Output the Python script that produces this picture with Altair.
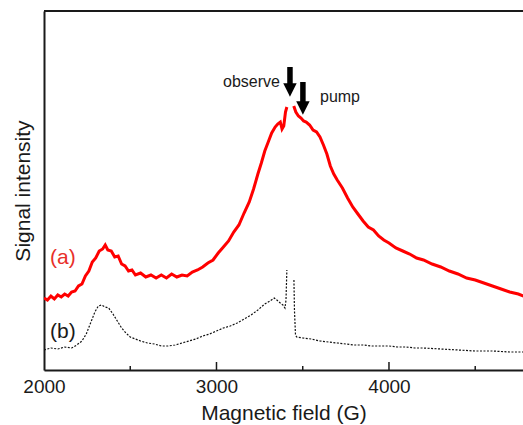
import altair as alt
import pandas as pd

# ---- data (field in G, signal in arbitrary units) ----
a_left_field = [2000, 2020, 2040, 2060, 2080, 2100, 2120, 2140, 2160, 2180, 2200, 2220, 2240, 2260,
                2280, 2300, 2320, 2340, 2355, 2370, 2390, 2410, 2430, 2450, 2470, 2490, 2510, 2530,
                2560, 2590, 2620, 2650, 2680, 2710, 2740, 2770, 2800, 2830, 2860, 2890, 2920, 2950,
                2980, 3010, 3040, 3070, 3100, 3130, 3160, 3190, 3215, 3240, 3260, 3280, 3300, 3320,
                3340, 3355, 3370, 3380, 3390, 3400, 3408]
a_left_signal = [72, 70, 74, 71, 75, 73, 76, 74, 78, 79, 84, 86, 94, 99,
                 108, 112, 119, 121, 125, 120, 119, 113, 114, 106, 104, 99, 100, 95,
                 97, 93, 95, 92, 95, 92, 96, 93, 95, 94, 98, 100, 103, 107,
                 110, 117, 123, 129, 138, 145, 157, 168, 181, 196, 207, 219, 228, 237,
                 243, 246, 248, 241, 244, 258, 263]
a_right_field = [3448, 3460, 3475, 3490, 3505, 3520, 3540, 3560, 3580, 3600, 3620, 3640, 3660, 3680,
                 3700, 3730, 3760, 3790, 3820, 3850, 3880, 3910, 3940, 3970, 4000, 4040, 4080, 4120,
                 4160, 4200, 4250, 4300, 4350, 4400, 4450, 4500, 4550, 4600, 4650, 4700, 4750, 4780]
a_right_signal = [264, 258, 254, 252, 249, 248, 245, 240, 238, 233, 225, 216, 204, 196,
                  190, 182, 172, 163, 156, 149, 143, 140, 134, 130, 127, 122, 119, 116,
                  112, 110, 106, 103, 99, 96, 92, 90, 87, 84, 81, 78, 76, 74]

b_left_field = [2000, 2040, 2080, 2120, 2160, 2190, 2220, 2245, 2270, 2295, 2315, 2335, 2355, 2375,
                2400, 2425, 2450, 2475, 2500, 2530, 2560, 2600, 2640, 2680, 2720, 2760, 2800, 2840,
                2880, 2920, 2960, 3000, 3040, 3080, 3120, 3160, 3200, 3240, 3280, 3310, 3335, 3350,
                3370, 3385, 3397, 3403, 3408]
b_left_signal = [20, 22, 21, 23, 22, 25, 29, 36, 47, 58, 64, 65, 63, 62,
                 56, 49, 42, 37, 33, 31, 29, 27, 26, 24, 24, 25, 27, 29,
                 31, 34, 36, 39, 42, 44, 47, 51, 55, 60, 66, 69, 72, 70,
                 67, 65, 62, 70, 100]
b_right_field = [3449, 3452, 3458, 3465, 3500, 3550, 3600, 3650, 3700, 3750, 3800, 3850, 3900, 3950,
                 4000, 4050, 4100, 4150, 4200, 4300, 4400, 4500, 4600, 4700, 4780]
b_right_signal = [90, 60, 35, 33, 32, 31, 29, 28, 27, 26, 25, 25, 24, 24,
                  24, 23, 23, 22, 22, 21, 20, 19, 19, 18, 18]

major_ticks = [3000, 4000]
minor_ticks = [2500, 3500, 4500]
tick_labels = [2000, 3000, 4000]

arrow_names = ["observe", "pump"]
arrow_field = [3426, 3501]
arrow_top = [303, 288]
arrow_head = [280, 262]

FONT = "Liberation Sans"
X_DOM = [2000, 4777]
Y_DOM = [0, 359]


def build(fields, signals, part):
    return pd.DataFrame({"field": fields, "signal": signals, "part": part})


df_a = pd.concat([build(a_left_field, a_left_signal, "L"), build(a_right_field, a_right_signal, "R")])
df_b = pd.concat([build(b_left_field, b_left_signal, "L"), build(b_right_field, b_right_signal, "R")])
df_arrows = pd.DataFrame({"name": arrow_names, "field": arrow_field, "top": arrow_top, "head": arrow_head})

xscale = alt.Scale(domain=X_DOM, nice=False, zero=False)
yscale = alt.Scale(domain=Y_DOM, nice=False, zero=False)

x_axis = alt.Axis(values=tick_labels, format="d", ticks=False, grid=False, labelFontSize=19, labelPadding=7,
                  labelColor="#1a1a1a", domainColor="#1a1a1a", domainWidth=2,
                  title="Magnetic field (G)", titleFontSize=21, titleFontWeight="normal",
                  titleColor="#1a1a1a", titlePadding=6, labelFlush=False)
y_axis = alt.Axis(labels=False, ticks=False, grid=False, domainColor="#1a1a1a", domainWidth=2,
                  title="Signal intensity", titleFontSize=21, titleFontWeight="normal",
                  titleColor="#1a1a1a", titlePadding=11, minExtent=0)

line_a = alt.Chart(df_a).mark_line(color="#ff0000", strokeWidth=3, clip=True).encode(
    x=alt.X("field:Q", scale=xscale, axis=x_axis),
    y=alt.Y("signal:Q", scale=yscale, axis=y_axis),
    detail="part:N",
)
line_b = alt.Chart(df_b).mark_line(color="#111111", strokeWidth=1.2, strokeDash=[2, 1.5], clip=True).encode(
    x=alt.X("field:Q", scale=xscale),
    y=alt.Y("signal:Q", scale=yscale),
    detail="part:N",
)

major = alt.Chart(pd.DataFrame({"t": major_ticks})).mark_rule(color="#1a1a1a", strokeWidth=1.5).encode(
    x=alt.X("t:Q", scale=xscale), y=alt.value(359), y2=alt.value(351))
minor = alt.Chart(pd.DataFrame({"t": minor_ticks})).mark_rule(color="#1a1a1a", strokeWidth=1.5).encode(
    x=alt.X("t:Q", scale=xscale), y=alt.value(359), y2=alt.value(355))
top_line = alt.Chart(pd.DataFrame({"t": [0]})).mark_rule(color="#1a1a1a", strokeWidth=2).encode(
    x=alt.value(0), x2=alt.value(479), y=alt.value(0))

shafts = alt.Chart(df_arrows).mark_rule(color="black", strokeWidth=5.5).encode(
    x=alt.X("field:Q", scale=xscale), y=alt.Y("top:Q", scale=yscale), y2="head:Q")
heads = alt.Chart(df_arrows).mark_point(shape="M-1,-1L1,-1L0,1Z", filled=True, color="black",
                                        size=180, opacity=1).encode(
    x=alt.X("field:Q", scale=xscale), y=alt.Y("head:Q", scale=yscale))

txt_obs = alt.Chart(pd.DataFrame({"t": ["observe"]})).mark_text(
    align="right", baseline="middle", fontSize=16, font=FONT, color="#1a1a1a").encode(
    x=alt.datum(3368, scale=xscale), y=alt.datum(288, scale=yscale), text="t:N")
txt_pump = alt.Chart(pd.DataFrame({"t": ["pump"]})).mark_text(
    align="left", baseline="middle", fontSize=16, font=FONT, color="#1a1a1a").encode(
    x=alt.datum(3600, scale=xscale), y=alt.datum(273, scale=yscale), text="t:N")
txt_a = alt.Chart(pd.DataFrame({"t": ["(a)"]})).mark_text(
    align="left", baseline="middle", fontSize=21, font=FONT, color="#e8302a").encode(
    x=alt.datum(2035, scale=xscale), y=alt.datum(112, scale=yscale), text="t:N")
txt_b = alt.Chart(pd.DataFrame({"t": ["(b)"]})).mark_text(
    align="left", baseline="middle", fontSize=21, font=FONT, color="#1a1a1a").encode(
    x=alt.datum(2035, scale=xscale), y=alt.datum(38, scale=yscale), text="t:N")

chart = alt.layer(
    line_b, line_a, major, minor, top_line, shafts, heads, txt_obs, txt_pump, txt_a, txt_b
).properties(
    width=479, height=359, autosize="none",
    padding={"left": 44, "top": 11, "right": 0, "bottom": 55},
    background="white",
).configure_view(stroke=None).configure(font=FONT)

chart.save("out.html", embed_options={"renderer": "svg", "actions": False})
